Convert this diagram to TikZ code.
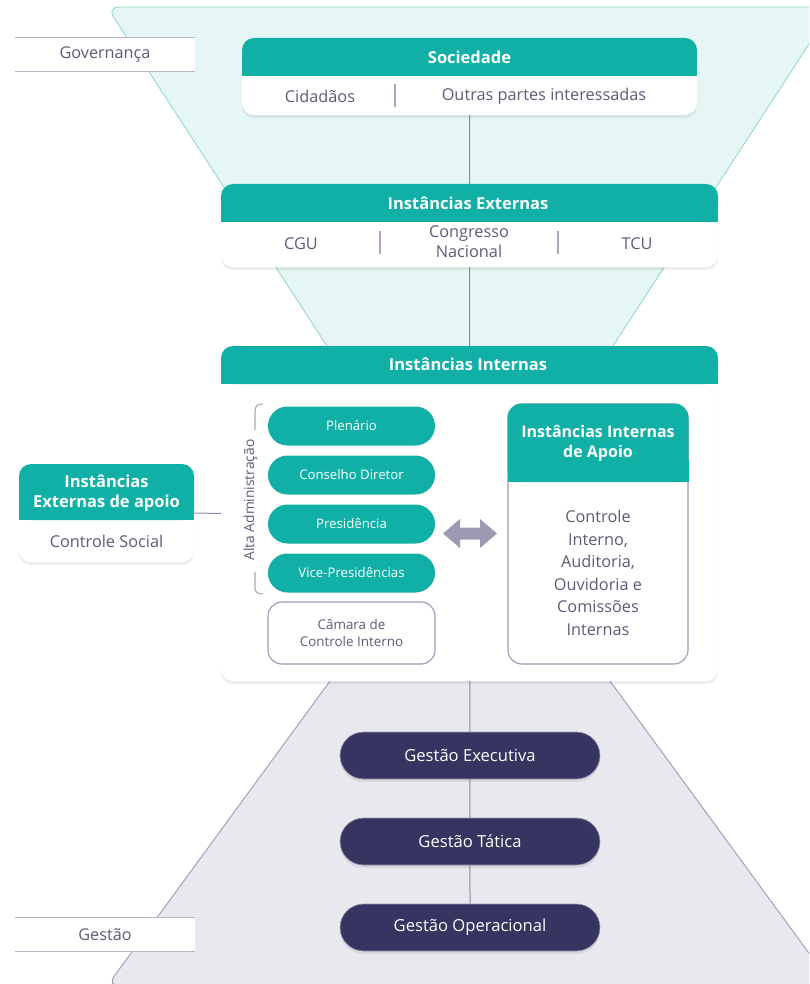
\documentclass[tikz,border=0pt]{standalone}
\usepackage{fontspec}
\setmainfont{Open Sans}
\usetikzlibrary{backgrounds,shadows}
\definecolor{teal}{HTML}{11B0A7}
\definecolor{tealLight}{HTML}{E6F6F4}
\definecolor{tealEdge}{HTML}{95DAD2}
\definecolor{grayFill}{HTML}{E9E8EE}
\definecolor{grayEdge}{HTML}{9C9AB3}
\definecolor{darkpill}{HTML}{363460}
\definecolor{txt}{HTML}{5C5B78}
\definecolor{linec}{HTML}{8C8AA3}
\definecolor{divc}{HTML}{A9A7BC}
\definecolor{tagline}{HTML}{B8B5C8}
\definecolor{arrowc}{HTML}{9B9AB2}
\tikzset{
  softshadow/.style={drop shadow={shadow xshift=0pt, shadow yshift=-3pt, opacity=0.07, fill=black}},
  card/.style={rectangle, rounded corners=12pt, fill=white, inner sep=0pt, softshadow},
  bodytxt/.style={text=txt, font=\fontsize{16.3}{20}\selectfont, align=center, inner sep=0pt},
  headtxt/.style={text=white, font=\bfseries\fontsize{16.5}{19.5}\selectfont, align=center, inner sep=0pt},
  tpill/.style={rectangle, rounded corners=19.5pt, fill=teal, text=white, minimum width=167pt, minimum height=39pt, inner sep=0pt, font=\fontsize{13.2}{15}\selectfont},
  dpill/.style={rectangle, rounded corners=23.5pt, fill=darkpill, draw=grayEdge, line width=0.6pt, text=white, minimum width=260pt, minimum height=47pt, inner sep=0pt, font=\fontsize{16.6}{19}\selectfont, softshadow},
  tagbox/.style={rectangle, fill=white, minimum width=180pt, minimum height=33pt, inner sep=0pt, text=txt, font=\fontsize{16.2}{19}\selectfont},
  tagrule/.style={draw=tagline, line width=1.3pt},
  divider/.style={draw=divc, line width=1.2pt},
  conn/.style={draw=linec, line width=1pt},
}
\begin{document}
\begin{tikzpicture}[x=1pt,y=-1pt]
\useasboundingbox (0,0) rectangle (809,984);

% ---------- Sociedade ----------
\node[card, minimum width=455pt, minimum height=77pt] (soc) at (469.5,76.5) {};
\fill[teal, rounded corners=12pt] (242,38) rectangle (697,76);
\fill[teal] (242,62) rectangle (697,76);
\node[headtxt] (soct) at (469.5,57) {Sociedade};
\node[bodytxt] (cid) at (320,96) {Cidadãos};
\node[bodytxt] (outras) at (544,96) {Outras partes interessadas};
\draw[divider] (395,84) -- (395,107);

% ---------- Instancias Externas ----------
\node[card, minimum width=497pt, minimum height=83pt] (ie) at (469.5,225.5) {};
\fill[teal, rounded corners=12pt] (221,184) rectangle (718,222);
\fill[teal] (221,208) rectangle (718,222);
\node[headtxt] (iet) at (468,203) {Instâncias Externas};
\node[bodytxt] (cgu) at (301,244) {CGU};
\node[bodytxt] (cong) at (469,242) {Congresso\\Nacional};
\node[bodytxt] (tcu) at (637,244) {TCU};
\draw[divider] (380,231) -- (380,254);
\draw[divider] (558,231) -- (558,254);

% ---------- Instancias Internas ----------
\node[card, minimum width=497pt, minimum height=335pt] (ii) at (469.5,513.5) {};
\fill[teal, rounded corners=12pt] (221,346) rectangle (718,384);
\fill[teal] (221,370) rectangle (718,384);
\node[headtxt] (iit) at (468,364) {Instâncias Internas};

\node[tpill] (plen) at (351.5,426) {Plenário};
\node[tpill] (cons) at (351.5,475) {Conselho Diretor};
\node[tpill] (pres) at (351.5,524) {Presidência};
\node[tpill] (vice) at (351.5,573) {Vice-Presidências};
\node[rectangle, rounded corners=14pt, draw=grayEdge, line width=1.1pt, fill=white, minimum width=167pt, minimum height=62pt, inner sep=0pt, text=txt, align=center, font=\fontsize{13.4}{16.5}\selectfont] (cam) at (351.5,633) {Câmara de\\Controle Interno};

% bracket
\draw[draw=divc, line width=1.1pt] (263,404) .. controls (257,404) and (255,406) .. (255,412) -- (255,430);
\draw[draw=divc, line width=1.1pt] (255,572) -- (255,587) .. controls (255,592) and (257,594) .. (263,594);
\node[rotate=90, text=txt, inner sep=0pt, font=\fontsize{13.8}{16}\selectfont] (alta) at (250.5,500) {Alta Administração};

% double arrow
\fill[arrowc] (443,533.5) -- (460,519) -- (460,527.5) -- (480,527.5) -- (480,519) -- (497,533.5) -- (480,548) -- (480,539.5) -- (460,539.5) -- (460,548) -- cycle;

% Instancias Internas de Apoio
\node[rectangle, rounded corners=14pt, draw=grayEdge, line width=1.1pt, fill=white, minimum width=180pt, minimum height=260pt, inner sep=0pt] (apo) at (598,534) {};
\fill[teal, rounded corners=14pt] (507.5,403.5) rectangle (688.5,482);
\fill[teal] (507.5,460) rectangle (688.5,482);
\node[headtxt, font=\bfseries\fontsize{16}{20}\selectfont] (apot) at (598,443) {Instâncias Internas\\de Apoio};
\node[bodytxt, font=\fontsize{16.3}{22.5}\selectfont] (apob) at (598,573) {Controle\\Interno,\\Auditoria,\\Ouvidoria e\\Comissões\\Internas};

% ---------- Instancias Externas de apoio ----------
\node[card, minimum width=175pt, minimum height=98pt] (ea) at (106.5,513) {};
\fill[teal, rounded corners=12pt] (19,464) rectangle (194,520);
\fill[teal] (19,500) rectangle (194,520);
\node[headtxt] (eat) at (106.5,493) {Instâncias\\Externas de apoio};
\node[bodytxt] (cs) at (106.5,541) {Controle Social};

% ---------- Gestao ----------
\node[dpill] (gex) at (470,755.5) {Gestão Executiva};
\node[dpill] (gta) at (470,841.5) {Gestão Tática};
\node[dpill] (gop) at (470,927.5) {Gestão Operacional};

% ---------- tags ----------
\node[tagbox] (gov) at (105,54.5) {Governança};
\draw[tagrule] (gov.north west) -- (gov.north east);
\draw[tagrule] (gov.south west) -- (gov.south east);
\node[tagbox] (ges) at (105,934.5) {Gestão};
\draw[tagrule] (ges.north west) -- (ges.north east);
\draw[tagrule] (ges.south west) -- (ges.south east);

% ---------- background ----------
\begin{scope}[on background layer]
  \begin{scope}
    \clip (0,0) rectangle (809,984);
    \filldraw[fill=tealLight, draw=tealEdge, line width=0.9pt, rounded corners=12pt]
      (375,420) -- (107,7) -- (833,7) -- (565,420);
    \filldraw[fill=grayFill, draw=grayEdge, line width=0.9pt, rounded corners=12pt]
      (360,640) -- (107,986) -- (833,986) -- (580,640);
  \end{scope}
  \draw[conn] (soc.south) -- (gop.north);
  \draw[conn] (ea.east) -- (ii.west);
\end{scope}
\end{tikzpicture}
\end{document}
